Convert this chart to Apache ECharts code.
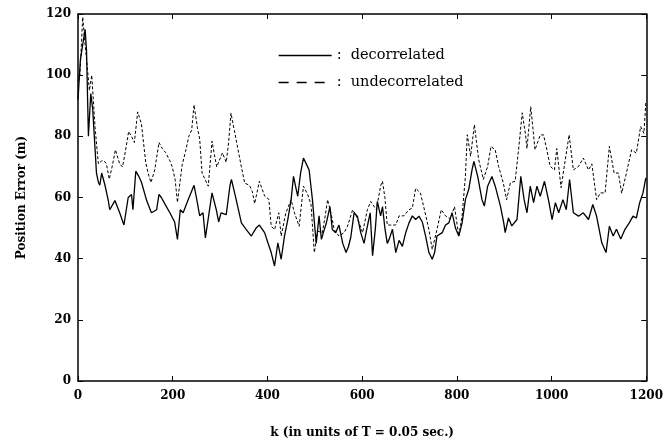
<!DOCTYPE html>
<html>
<head>
<meta charset="utf-8">
<script src="https://cdn.jsdelivr.net/npm/echarts@6/dist/echarts.min.js"></script>
<style>html,body{margin:0;padding:0;background:#fff}#c{width:666px;height:444px}</style>
</head>
<body>
<div id="c"></div>
<script>
// ---- data ----
var xTicks = [0, 200, 400, 600, 800, 1000, 1200];
var yTicks = [0, 20, 40, 60, 80, 100, 120];

var kDec = [0,5,11,15,18,22,27,31,39,43,46,50,57,64,67,78,88,97,106,113,116,122,128,134,145,155,166,171,176,183,194,204,210,216,222,232,245,250,257,264,269,274,283,292,297,302,313,321,324,334,345,355,366,376,383,394,401,408,415,422,429,436,443,450,455,464,470,476,482,488,495,501,503,509,514,519,524,532,537,544,551,559,566,571,576,583,590,597,604,611,617,622,628,632,639,643,648,653,657,664,671,678,685,692,699,706,713,720,727,734,741,748,753,758,769,776,783,790,797,804,811,818,825,832,836,844,853,858,865,874,881,892,899,902,909,916,927,935,942,948,955,962,969,976,985,994,1001,1008,1015,1024,1031,1038,1046,1057,1067,1078,1087,1095,1106,1115,1122,1130,1137,1146,1155,1164,1172,1179,1186,1193,1199];
var decorrelated = [92,105,111,115,108,80,94,89,68,65,64,68,64,59,56,59,55,51,60,61,56,68.6,67,65,59,55,56,61,60,58,55,52,46.3,56,55,59,64,60,54,55,46.8,52,61.5,56,52,55,54.4,64,65.9,59.3,51.7,49.6,47.4,50,51,48.5,45.2,42,37.6,45.2,39.8,47.4,52.8,59.3,66.9,60.4,68,72.9,71,69,59.3,48.5,45,54,46.3,49,51.4,57,49.5,48.5,51,45,42,43.9,47,55,53.8,48.5,45,50.6,55,41,50,58.7,54,57,50,45,46.3,49.6,42,46,44,48.5,51.7,54,52.8,53.9,52,47.4,42,39.8,42,47.4,48.5,51,51.7,55,50,47.4,51.7,59.3,62.6,69,71.8,66.9,59.3,57.2,63.7,66.9,63.7,57.2,51.7,48.5,53.3,50.7,52.8,66.9,59.3,55,63.7,58.3,63.7,60.4,65.3,58.8,52.8,58.3,55,59.3,56,65.9,55,53.9,55,52.8,57.7,53.9,45.2,42,50.6,47.4,49.6,46.4,49.6,51.7,53.9,53.3,58.3,61.5,66.4];

var kUnd = [0,4,10,15,20,24,29,36,43,50,55,60,66,72,79,88,94,100,107,113,119,126,134,143,148,154,162,171,178,185,194,199,205,210,220,227,234,240,245,252,257,262,268,275,283,288,293,302,305,313,318,323,330,338,345,352,362,368,373,383,394,403,408,415,424,429,439,450,457,467,476,485,492,499,506,516,522,527,534,541,551,562,569,580,590,601,611,618,630,639,643,648,653,660,671,678,688,699,706,713,723,730,741,748,758,767,776,786,795,804,811,818,822,829,837,846,856,865,872,881,888,898,905,913,923,931,938,945,948,956,965,976,983,990,997,1006,1011,1020,1029,1037,1046,1057,1067,1078,1085,1095,1103,1113,1122,1132,1141,1148,1158,1169,1179,1188,1195,1199];
var undecorrelated = [98,100,119,110,102,95,100,83,71,72,72,71,66,70,75.6,71,70,75,81.6,80,78,88,84,71.4,68,64.9,69,78,76,74.7,72,70,66,58.4,70.7,75,80,82,90.3,83,79,68,66,63.7,78.4,74,70,73.5,74.6,71.5,78,87.6,82,75.6,70,64.7,64,62,58,65.3,60.5,59.4,50.6,49.5,55,47.4,55,59.3,55,50.6,63.7,61,57.7,42,49,48.5,54,59.3,55,49.5,47.4,48.5,50.6,56,53.3,48.5,56,58.7,56,63.8,65.3,60,51,51,51,54,54,56,56.6,63,61.5,57,49.5,43,49.5,56,54,53,57,47.4,54,66.9,80.5,73.5,83.8,72.4,65.9,70.2,76.7,75.6,70.2,64.8,59.3,64.8,65.3,76.7,87.7,80.5,76,89.7,75.6,80.4,80.5,75.6,70.2,69,76,63.2,72.4,80.5,69,70.2,72.9,69,71,59.3,61.5,61.5,76.7,68,68,61.4,68,75.6,74.5,83.2,81,91];

var seriesNames = ['decorrelated', 'undecorrelated'];
var xName = 'k (in units of T = 0.05 sec.)';
var yName = 'Position Error (m)';

function pairs(ks, vs) { return ks.map(function (k, i) { return [k, vs[i]]; }); }

var chart = echarts.init(document.getElementById('c'), null, { renderer: 'canvas' });
var serif = '"DejaVu Serif", serif';
var labelStyle = { color: '#000', fontFamily: serif, fontWeight: 'bold', fontSize: 12 };
var axisLine = { show: true, onZero: false, lineStyle: { color: '#000', width: 1.5 } };
var tick = { show: true, inside: true, length: 5, lineStyle: { color: '#000', width: 1 } };
var hiddenSymbol = { color: 'rgba(0,0,0,0)', borderColor: 'rgba(0,0,0,0)', borderWidth: 0, opacity: 0 };

chart.setOption({
  animation: false,
  backgroundColor: '#fff',
  grid: { left: 78, right: 18, top: 14, bottom: 62, containLabel: false },
  legend: {
    orient: 'vertical',
    left: 273,
    top: 43,
    itemWidth: 53,
    itemHeight: 14,
    itemGap: 12,
    formatter: function (n) { return ':  ' + n; },
    textStyle: { color: '#000', fontFamily: serif, fontSize: 14.5 },
    itemStyle: hiddenSymbol,
    data: [
      { name: seriesNames[0], itemStyle: hiddenSymbol, lineStyle: { type: 'solid', width: 1.3, color: '#000' } },
      { name: seriesNames[1], itemStyle: hiddenSymbol, lineStyle: { type: [10, 8], width: 1.3, color: '#000' } }
    ]
  },
  xAxis: [
    {
      type: 'value', min: xTicks[0], max: xTicks[xTicks.length - 1], interval: 200,
      position: 'bottom',
      name: xName, nameLocation: 'middle', nameGap: 46,
      nameTextStyle: labelStyle,
      axisLine: axisLine, axisTick: tick,
      axisLabel: Object.assign({ margin: 9, formatter: function (v) { return String(v); } }, labelStyle),
      splitLine: { show: false }
    },
    {
      type: 'value', min: xTicks[0], max: xTicks[xTicks.length - 1], interval: 200,
      position: 'top',
      axisLine: axisLine, axisTick: tick,
      axisLabel: { show: false }, splitLine: { show: false }
    }
  ],
  yAxis: [
    {
      type: 'value', min: yTicks[0], max: yTicks[yTicks.length - 1], interval: 20,
      position: 'left',
      name: yName, nameLocation: 'middle', nameGap: 50, nameRotate: 90,
      nameTextStyle: labelStyle,
      axisLine: axisLine, axisTick: tick,
      axisLabel: Object.assign({ margin: 7 }, labelStyle),
      splitLine: { show: false }
    },
    {
      type: 'value', min: yTicks[0], max: yTicks[yTicks.length - 1], interval: 20,
      position: 'right',
      axisLine: axisLine, axisTick: tick,
      axisLabel: { show: false }, splitLine: { show: false }
    }
  ],
  series: [
    {
      name: seriesNames[1], type: 'line', symbol: 'none', z: 2,
      data: pairs(kUnd, undecorrelated),
      lineStyle: { color: '#000', width: 1, type: [3, 2] },
      itemStyle: { color: '#000' }
    },
    {
      name: seriesNames[0], type: 'line', symbol: 'none', z: 3,
      data: pairs(kDec, decorrelated),
      lineStyle: { color: '#000', width: 1.3, type: 'solid' },
      itemStyle: { color: '#000' }
    }
  ]
});
</script>
</body>
</html>
